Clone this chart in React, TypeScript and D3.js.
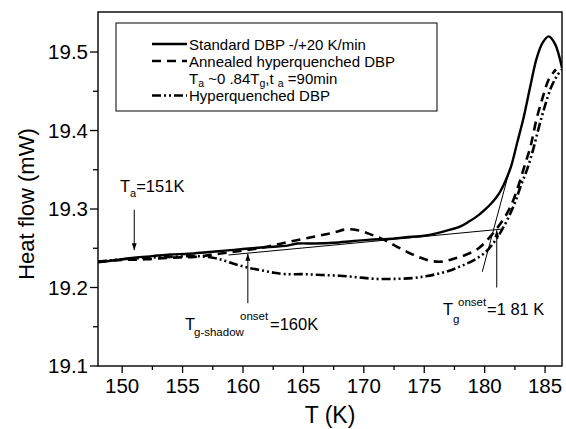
import React from "react";
import * as d3 from "d3";

// Standard DBP -/+20 K/min (solid)
const standardT = [148.0, 149.5, 151.0, 152.5, 154.0, 155.5, 157.0, 158.5, 160.0, 161.5, 162.5, 163.5, 164.5, 166.0, 167.5, 169.0, 170.5, 172.0, 173.5, 175.0, 176.0, 177.0, 178.0, 178.7, 179.3, 180.0, 180.6, 181.2, 181.7, 182.2, 182.7, 183.2, 183.8, 184.3, 184.8, 185.3, 185.8, 186.4];
const standardHF = [19.232, 19.235, 19.238, 19.240, 19.242, 19.243, 19.245, 19.247, 19.249, 19.251, 19.252, 19.253, 19.256, 19.256, 19.257, 19.259, 19.261, 19.262, 19.264, 19.266, 19.269, 19.273, 19.278, 19.284, 19.290, 19.299, 19.308, 19.320, 19.335, 19.355, 19.385, 19.415, 19.458, 19.492, 19.512, 19.520, 19.511, 19.480];

// Annealed hyperquenched DBP (dashed)
const annealedT = [148.0, 150.0, 152.0, 154.0, 156.0, 158.0, 160.0, 162.0, 164.0, 166.0, 167.5, 168.5, 169.5, 170.5, 171.5, 172.5, 173.5, 174.5, 175.5, 176.5, 177.5, 178.5, 179.5, 180.3, 181.0, 181.6, 182.2, 182.8, 183.3, 183.8, 184.3, 184.8, 185.3, 185.9];
const annealedHF = [19.233, 19.235, 19.236, 19.238, 19.239, 19.243, 19.247, 19.252, 19.259, 19.265, 19.270, 19.274, 19.273, 19.268, 19.262, 19.254, 19.246, 19.239, 19.234, 19.233, 19.237, 19.242, 19.250, 19.262, 19.275, 19.288, 19.305, 19.330, 19.355, 19.380, 19.415, 19.442, 19.465, 19.478];

// Hyperquenched DBP (dash-dot-dot)
const hyperT = [148.0, 150.0, 152.0, 154.0, 156.0, 157.5, 158.5, 159.5, 160.5, 161.5, 162.5, 163.5, 165.0, 166.5, 168.0, 169.5, 171.0, 172.5, 174.0, 175.0, 176.0, 177.0, 178.0, 179.0, 180.0, 180.7, 181.3, 181.9, 182.5, 183.0, 183.5, 184.0, 184.5, 185.0, 185.5, 186.0, 186.4];
const hyperHF = [19.233, 19.236, 19.238, 19.239, 19.240, 19.238, 19.234, 19.229, 19.225, 19.222, 19.219, 19.217, 19.217, 19.216, 19.215, 19.213, 19.211, 19.211, 19.212, 19.214, 19.217, 19.221, 19.227, 19.234, 19.244, 19.256, 19.270, 19.287, 19.308, 19.330, 19.350, 19.375, 19.405, 19.432, 19.455, 19.470, 19.478];

const xTicks = [150, 155, 160, 165, 170, 175, 180, 185];
const xMinor = [152.5, 157.5, 162.5, 167.5, 172.5, 177.5, 182.5];
const yTicks = [19.1, 19.2, 19.3, 19.4, 19.5];
const yMinor = [19.15, 19.25, 19.35, 19.45];

// tangent construction lines [T, HF]
const baselineTangent = [[158.8, 19.2414], [181.5, 19.2745]];
const riseTangent = [[179.8, 19.22], [182.1, 19.352]];

const L = 98, R = 562, T = 12, B = 366;
const FONT = "'Liberation Sans', Arial, Helvetica, sans-serif";

export default function App() {
  const x = d3.scaleLinear().domain([148, 186.4]).range([L, R]);
  const y = d3.scaleLinear().domain([19.1, 19.551]).range([B, T]);

  const path = (ts: number[], hs: number[]) =>
    d3
      .line<number>()
      .x((d) => x(ts[d]))
      .y((d) => y(hs[d]))
      .curve(d3.curveCatmullRom)(ts.map((_, i) => i)) || "";

  const seg = (p: number[][]) => `M${x(p[0][0])},${y(p[0][1])}L${x(p[1][0])},${y(p[1][1])}`;

  return (
    <svg width={566} height={429} style={{ position: "absolute", left: 0, top: 0, background: "#fff", fontFamily: FONT }}>
      <defs>
        <clipPath id="plot">
          <rect x={L} y={T} width={R - L} height={B - T} />
        </clipPath>
        <marker id="arr" viewBox="0 0 10 10" refX={10} refY={5} markerWidth={7} markerHeight={7} orient="auto">
          <path d="M0,1.5L10,5L0,8.5z" fill="#000" />
        </marker>
      </defs>
      <rect x={0} y={0} width={566} height={429} fill="#fff" />

      {/* curves */}
      <g clipPath="url(#plot)" fill="none" stroke="#000">
        <path d={seg(baselineTangent)} strokeWidth={1} />
        <path d={seg(riseTangent)} strokeWidth={1} />
        <path d={path(standardT, standardHF)} strokeWidth={2.4} />
        <path d={path(annealedT, annealedHF)} strokeWidth={2.6} strokeDasharray="9,6" />
        <path d={path(hyperT, hyperHF)} strokeWidth={2.6} strokeDasharray="9,3,2,3,2,3" />
      </g>

      {/* frame */}
      <rect x={L} y={T} width={R - L} height={B - T} fill="none" stroke="#000" strokeWidth={1.4} />

      {/* x axis */}
      {xTicks.map((t) => (
        <g key={"xt" + t}>
          <line x1={x(t)} x2={x(t)} y1={B} y2={B + 7} stroke="#000" strokeWidth={1.3} />
          <text x={x(t)} y={393} fontSize={20.5} textAnchor="middle">{t}</text>
        </g>
      ))}
      {xMinor.map((t) => (
        <line key={"xm" + t} x1={x(t)} x2={x(t)} y1={B} y2={B + 4} stroke="#000" strokeWidth={1.3} />
      ))}
      <text x={330} y={423} fontSize={23} textAnchor="middle">T (K)</text>

      {/* y axis */}
      {yTicks.map((t) => (
        <g key={"yt" + t}>
          <line x1={L - 8} x2={L} y1={y(t)} y2={y(t)} stroke="#000" strokeWidth={1.3} />
          <text x={88} y={y(t) + 7} fontSize={20.5} textAnchor="end">{t.toFixed(1)}</text>
        </g>
      ))}
      {yMinor.map((t) => (
        <line key={"ym" + t} x1={L - 5} x2={L} y1={y(t)} y2={y(t)} stroke="#000" strokeWidth={1.3} />
      ))}
      <text transform="translate(34,204) rotate(-90)" fontSize={22} textAnchor="middle">Heat flow (mW)</text>

      {/* legend */}
      <rect x={116} y={23} width={321} height={88} fill="#fff" stroke="#000" strokeWidth={1} />
      <g stroke="#000" strokeWidth={2.4}>
        <line x1={152} x2={187} y1={44} y2={44} />
        <line x1={152} x2={187} y1={61} y2={61} strokeDasharray="9,6" />
        <line x1={152} x2={187} y1={95.5} y2={95.5} strokeDasharray="9,3,2,3,2,3" />
      </g>
      <g fontSize={15}>
        <text x={189} y={50}>Standard DBP -/+20 K/min</text>
        <text x={189} y={66.5}>Annealed hyperquenched DBP</text>
        <text x={189} y={84}>
          T<tspan fontSize={10.5} dy={3}>a</tspan>
          <tspan dy={-3}> ~0 .84T</tspan>
          <tspan fontSize={10.5} dy={3}>g</tspan>
          <tspan dy={-3}>,t </tspan>
          <tspan fontSize={10.5} dy={3}>a</tspan>
          <tspan dy={-3}> =90min</tspan>
        </text>
        <text x={189} y={101}>Hyperquenched DBP</text>
      </g>

      {/* annotations */}
      <g stroke="#000" strokeWidth={1}>
        <line x1={x(151)} x2={x(151)} y1={y(19.299)} y2={y(19.2475)} markerEnd="url(#arr)" />
        <line x1={x(160.4)} x2={x(160.4)} y1={y(19.18)} y2={y(19.243)} markerEnd="url(#arr)" />
        <line x1={x(181.0)} x2={x(181.0)} y1={y(19.2)} y2={y(19.273)} markerEnd="url(#arr)" />
      </g>
      <text x={120} y={192} fontSize={16.5}>
        T<tspan fontSize={11} dy={5}>a</tspan>
        <tspan dy={-5}>=151K</tspan>
      </text>
      <text x={185} y={330} fontSize={16.5}>T</text>
      <text x={194} y={336} fontSize={11.5}>g-shadow</text>
      <text x={240} y={320} fontSize={11.5}>onset</text>
      <text x={270} y={330} fontSize={16.5}>=160K</text>
      <text x={443} y={315} fontSize={16.5}>T</text>
      <text x={453} y={323} fontSize={11.5}>g</text>
      <text x={458} y={306} fontSize={11.5}>onset</text>
      <text x={487} y={315} fontSize={16.5}>=1 81 K</text>
    </svg>
  );
}
